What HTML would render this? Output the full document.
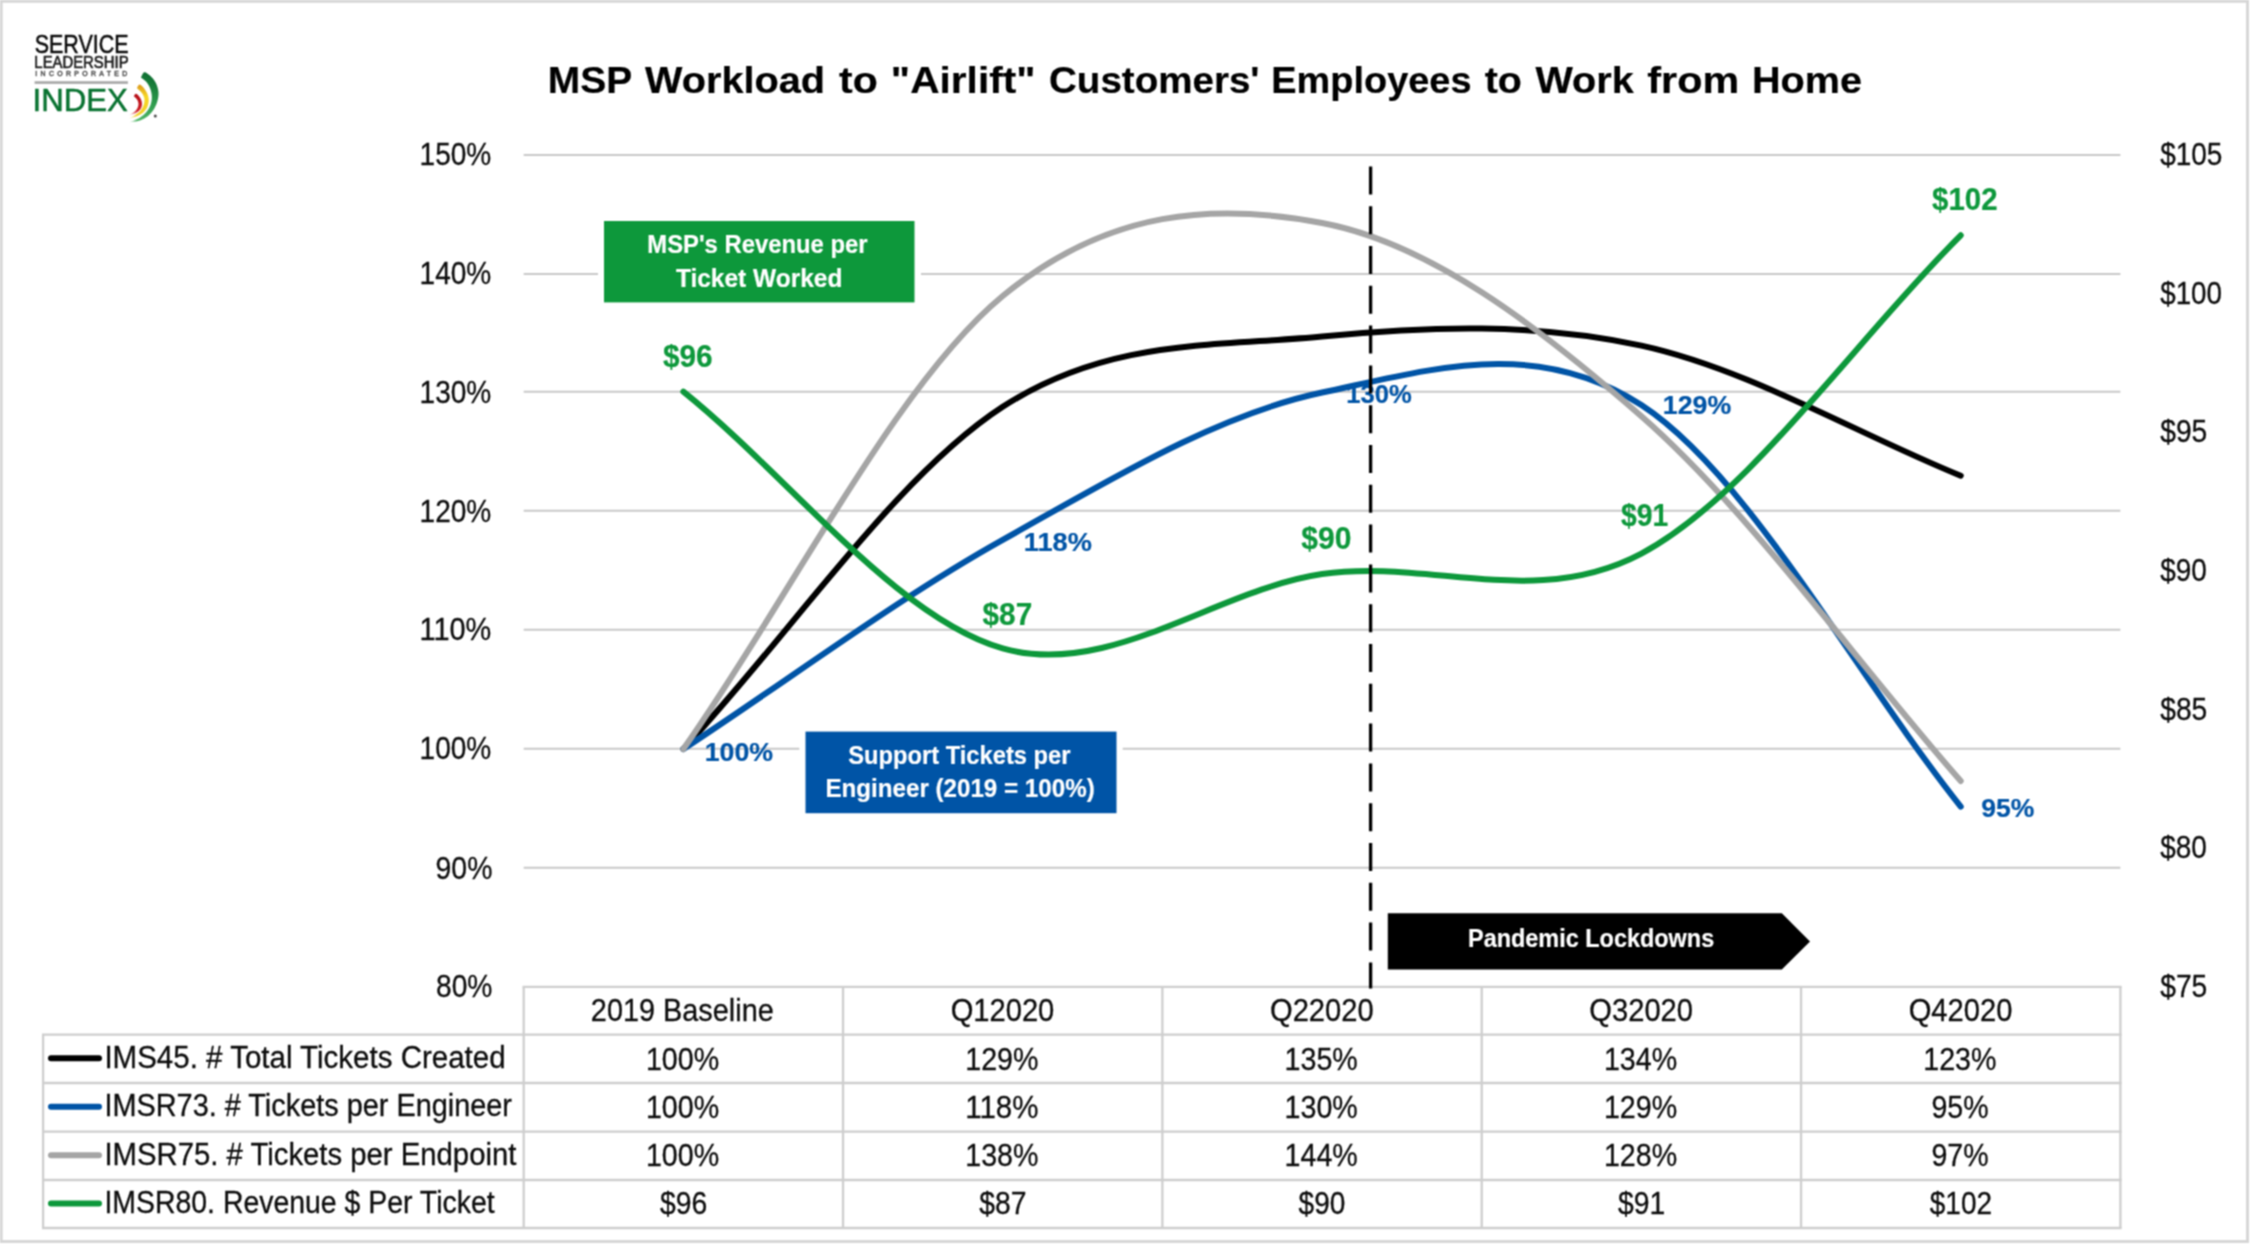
<!DOCTYPE html>
<html lang="en"><head><meta charset="utf-8"><title>MSP Workload to "Airlift" Customers' Employees to Work from Home</title>
<style>html,body{margin:0;padding:0;background:#fff;}body{width:2250px;height:1245px;overflow:hidden;}svg{display:block;}text{font-family:"Liberation Sans",sans-serif;}.b{font-weight:bold;}</style></head><body>
<svg width="2250" height="1245" viewBox="0 0 2250 1245">
<rect x="0" y="0" width="2250" height="1245" fill="#ffffff"/>
<filter id="soft" filterUnits="userSpaceOnUse" x="-10" y="-10" width="2270" height="1265" color-interpolation-filters="sRGB"><feConvolveMatrix order="3" kernelMatrix="1 2 1 2 4 2 1 2 1" divisor="16" edgeMode="duplicate" preserveAlpha="true"/></filter>
<g filter="url(#soft)">
<rect x="-10" y="-10" width="2270" height="1265" fill="#ffffff"/>
<rect x="1.2" y="1.3" width="2246.3" height="1240.2" fill="none" stroke="#d6d6d6" stroke-width="2.9"/>
<line x1="523.7" y1="154.90" x2="2120.4" y2="154.90" stroke="#c8c8c8" stroke-width="2.0"/>
<line x1="523.7" y1="273.90" x2="2120.4" y2="273.90" stroke="#c8c8c8" stroke-width="2.0"/>
<line x1="523.7" y1="391.70" x2="2120.4" y2="391.70" stroke="#c8c8c8" stroke-width="2.0"/>
<line x1="523.7" y1="510.70" x2="2120.4" y2="510.70" stroke="#c8c8c8" stroke-width="2.0"/>
<line x1="523.7" y1="629.80" x2="2120.4" y2="629.80" stroke="#c8c8c8" stroke-width="2.0"/>
<line x1="523.7" y1="748.75" x2="2120.4" y2="748.75" stroke="#c8c8c8" stroke-width="2.0"/>
<line x1="523.7" y1="867.65" x2="2120.4" y2="867.65" stroke="#c8c8c8" stroke-width="2.0"/>
<line x1="522.6" y1="986.80" x2="2121.6" y2="986.80" stroke="#cecece" stroke-width="2.3"/>
<line x1="42.0" y1="1034.70" x2="2121.6" y2="1034.70" stroke="#cecece" stroke-width="2.3"/>
<line x1="42.0" y1="1083.00" x2="2121.6" y2="1083.00" stroke="#cecece" stroke-width="2.3"/>
<line x1="42.0" y1="1131.70" x2="2121.6" y2="1131.70" stroke="#cecece" stroke-width="2.3"/>
<line x1="42.0" y1="1180.00" x2="2121.6" y2="1180.00" stroke="#cecece" stroke-width="2.3"/>
<line x1="42.0" y1="1228.00" x2="2121.6" y2="1228.00" stroke="#cecece" stroke-width="2.3"/>
<line x1="523.70" y1="986.8" x2="523.70" y2="1228.0" stroke="#cecece" stroke-width="2.3"/>
<line x1="843.04" y1="986.8" x2="843.04" y2="1228.0" stroke="#cecece" stroke-width="2.3"/>
<line x1="1162.38" y1="986.8" x2="1162.38" y2="1228.0" stroke="#cecece" stroke-width="2.3"/>
<line x1="1481.72" y1="986.8" x2="1481.72" y2="1228.0" stroke="#cecece" stroke-width="2.3"/>
<line x1="1801.06" y1="986.8" x2="1801.06" y2="1228.0" stroke="#cecece" stroke-width="2.3"/>
<line x1="2120.40" y1="986.8" x2="2120.40" y2="1228.0" stroke="#cecece" stroke-width="2.3"/>
<line x1="43.10" y1="1034.7" x2="43.10" y2="1228.0" stroke="#cecece" stroke-width="2.3"/>
<path d="M683.37,748.97 C789.82,634.91 896.26,475.54 1002.71,406.79 C1109.16,338.03 1215.60,346.65 1322.05,336.45 C1428.50,326.25 1534.94,322.39 1641.39,345.60 C1747.84,368.81 1854.28,432.33 1960.73,475.70" fill="none" stroke="#000000" stroke-width="6.0" stroke-linecap="round" stroke-linejoin="round"/>
<path d="M683.37,748.97 C789.82,679.27 896.26,599.27 1002.71,539.86 C1109.16,480.45 1215.60,415.00 1322.05,392.53 C1428.50,370.05 1534.94,335.99 1641.39,405.00 C1747.84,474.02 1854.28,672.73 1960.73,806.60" fill="none" stroke="#0054a6" stroke-width="6.0" stroke-linecap="round" stroke-linejoin="round"/>
<path d="M683.37,748.97 C789.82,598.00 896.26,383.72 1002.71,296.05 C1109.16,208.39 1215.60,202.94 1322.05,222.98 C1428.50,243.02 1534.94,323.28 1641.39,416.29 C1747.84,509.30 1854.28,659.46 1960.73,781.05" fill="none" stroke="#a5a5a5" stroke-width="6.0" stroke-linecap="round" stroke-linejoin="round"/>
<path d="M683.37,391.66 C789.82,477.23 896.26,617.97 1002.71,648.38 C1109.16,678.78 1215.60,589.88 1322.05,574.08 C1428.50,558.27 1534.94,610.02 1641.39,553.56 C1747.84,497.10 1854.28,341.39 1960.73,235.30" fill="none" stroke="#0d983b" stroke-width="6.0" stroke-linecap="round" stroke-linejoin="round"/>
<text x="419.55" y="165.10" font-size="32.20" fill="#0c0c0c" textLength="71.69" lengthAdjust="spacingAndGlyphs" stroke="#0c0c0c" stroke-width="0.30">150%</text>
<text x="419.55" y="283.90" font-size="32.20" fill="#0c0c0c" textLength="71.69" lengthAdjust="spacingAndGlyphs" stroke="#0c0c0c" stroke-width="0.30">140%</text>
<text x="419.55" y="402.70" font-size="32.20" fill="#0c0c0c" textLength="71.69" lengthAdjust="spacingAndGlyphs" stroke="#0c0c0c" stroke-width="0.30">130%</text>
<text x="419.55" y="521.50" font-size="32.20" fill="#0c0c0c" textLength="71.69" lengthAdjust="spacingAndGlyphs" stroke="#0c0c0c" stroke-width="0.30">120%</text>
<text x="419.49" y="640.30" font-size="32.20" fill="#0c0c0c" textLength="71.77" lengthAdjust="spacingAndGlyphs" stroke="#0c0c0c" stroke-width="0.30">110%</text>
<text x="419.55" y="759.10" font-size="32.20" fill="#0c0c0c" textLength="71.69" lengthAdjust="spacingAndGlyphs" stroke="#0c0c0c" stroke-width="0.30">100%</text>
<text x="435.57" y="878.80" font-size="32.20" fill="#0c0c0c" textLength="56.88" lengthAdjust="spacingAndGlyphs" stroke="#0c0c0c" stroke-width="0.30">90%</text>
<text x="436.02" y="996.70" font-size="32.20" fill="#0c0c0c" textLength="56.42" lengthAdjust="spacingAndGlyphs" stroke="#0c0c0c" stroke-width="0.30">80%</text>
<text x="2160.20" y="165.10" font-size="32.20" fill="#0c0c0c" textLength="62.23" lengthAdjust="spacingAndGlyphs" stroke="#0c0c0c" stroke-width="0.30">$105</text>
<text x="2160.20" y="303.72" font-size="32.20" fill="#0c0c0c" textLength="61.79" lengthAdjust="spacingAndGlyphs" stroke="#0c0c0c" stroke-width="0.30">$100</text>
<text x="2160.20" y="442.33" font-size="32.20" fill="#0c0c0c" textLength="47.15" lengthAdjust="spacingAndGlyphs" stroke="#0c0c0c" stroke-width="0.30">$95</text>
<text x="2160.20" y="580.95" font-size="32.20" fill="#0c0c0c" textLength="46.70" lengthAdjust="spacingAndGlyphs" stroke="#0c0c0c" stroke-width="0.30">$90</text>
<text x="2160.20" y="719.57" font-size="32.20" fill="#0c0c0c" textLength="47.15" lengthAdjust="spacingAndGlyphs" stroke="#0c0c0c" stroke-width="0.30">$85</text>
<text x="2160.20" y="858.18" font-size="32.20" fill="#0c0c0c" textLength="46.70" lengthAdjust="spacingAndGlyphs" stroke="#0c0c0c" stroke-width="0.30">$80</text>
<text x="2160.20" y="996.80" font-size="32.20" fill="#0c0c0c" textLength="47.15" lengthAdjust="spacingAndGlyphs" stroke="#0c0c0c" stroke-width="0.30">$75</text>
<text x="704.73" y="760.80" font-size="26.30" fill="#0054a6" class="b" textLength="68.35" lengthAdjust="spacingAndGlyphs" stroke="#0054a6" stroke-width="0.20">100%</text>
<text x="1023.80" y="550.50" font-size="26.30" fill="#0054a6" class="b" textLength="68.09" lengthAdjust="spacingAndGlyphs" stroke="#0054a6" stroke-width="0.20">118%</text>
<text x="1346.20" y="402.80" font-size="26.30" fill="#0054a6" class="b" textLength="65.46" lengthAdjust="spacingAndGlyphs" stroke="#0054a6" stroke-width="0.20">130%</text>
<text x="1662.83" y="414.20" font-size="26.30" fill="#0054a6" class="b" textLength="68.35" lengthAdjust="spacingAndGlyphs" stroke="#0054a6" stroke-width="0.20">129%</text>
<text x="1981.37" y="817.10" font-size="26.30" fill="#0054a6" class="b" textLength="53.10" lengthAdjust="spacingAndGlyphs" stroke="#0054a6" stroke-width="0.20">95%</text>
<text x="663.00" y="366.70" font-size="30.70" fill="#0d983b" class="b" textLength="49.64" lengthAdjust="spacingAndGlyphs" stroke="#0d983b" stroke-width="0.20">$96</text>
<text x="982.50" y="624.50" font-size="30.70" fill="#0d983b" class="b" textLength="49.71" lengthAdjust="spacingAndGlyphs" stroke="#0d983b" stroke-width="0.20">$87</text>
<text x="1301.30" y="549.30" font-size="30.70" fill="#0d983b" class="b" textLength="50.12" lengthAdjust="spacingAndGlyphs" stroke="#0d983b" stroke-width="0.20">$90</text>
<text x="1621.10" y="526.20" font-size="30.70" fill="#0d983b" class="b" textLength="47.20" lengthAdjust="spacingAndGlyphs" stroke="#0d983b" stroke-width="0.20">$91</text>
<text x="1932.10" y="210.40" font-size="30.70" fill="#0d983b" class="b" textLength="65.43" lengthAdjust="spacingAndGlyphs" stroke="#0d983b" stroke-width="0.20">$102</text>
<rect x="598" y="214.8" width="323" height="93.8" fill="#ffffff"/>
<rect x="604" y="221.0" width="310.5" height="81.4" fill="#0d983b"/>
<rect x="799.3" y="725.4" width="323.4" height="94.2" fill="#ffffff"/>
<rect x="805.5" y="731.6" width="311" height="81.6" fill="#0054a6"/>
<line x1="1370.6" y1="166.4" x2="1370.6" y2="988.4" stroke="#000" stroke-width="3.3" stroke-dasharray="28 11.8"/>
<path d="M1387.8,913.3 H1781.8 L1810,941.5 L1781.8,969.6 H1387.8 Z" fill="#000"/>
<line x1="51.0" y1="1058.2" x2="99.0" y2="1058.2" stroke="#000000" stroke-width="6.0" stroke-linecap="round"/>
<line x1="51.0" y1="1106.8" x2="99.0" y2="1106.8" stroke="#0054a6" stroke-width="6.0" stroke-linecap="round"/>
<line x1="51.0" y1="1155.2" x2="99.0" y2="1155.2" stroke="#a5a5a5" stroke-width="6.0" stroke-linecap="round"/>
<line x1="51.0" y1="1203.4" x2="99.0" y2="1203.4" stroke="#0d983b" stroke-width="6.0" stroke-linecap="round"/>
<defs>
<linearGradient id="gG" gradientUnits="userSpaceOnUse" x1="158" y1="76" x2="138" y2="118"><stop offset="0" stop-color="#0a6a2e"/><stop offset="0.55" stop-color="#2c9a4c"/><stop offset="1" stop-color="#4db464"/></linearGradient>
<linearGradient id="gY" gradientUnits="userSpaceOnUse" x1="140" y1="85" x2="140" y2="118"><stop offset="0" stop-color="#dc9a1c"/><stop offset="0.35" stop-color="#f6d624"/><stop offset="1" stop-color="#f2cf2a"/></linearGradient>
<linearGradient id="gR" gradientUnits="userSpaceOnUse" x1="136" y1="94" x2="136" y2="115"><stop offset="0" stop-color="#b50f16"/><stop offset="1" stop-color="#d3232a"/></linearGradient>
<linearGradient id="gF" gradientUnits="userSpaceOnUse" x1="127.5" y1="0" x2="137" y2="0"><stop offset="0" stop-color="#fff" stop-opacity="1"/><stop offset="0.25" stop-color="#fff" stop-opacity="0.85"/><stop offset="1" stop-color="#fff" stop-opacity="0"/></linearGradient>
</defs>
<g id="logo">
<rect x="34.6" y="81.2" width="93.3" height="2.7" fill="#a9aaa9"/>
<path d="M140.94,77.47 C141.51,76.59 142.86,72.49 144.37,72.18 C145.87,71.87 148.10,73.89 149.97,75.60 C151.83,77.31 154.17,79.85 155.57,82.45 C156.97,85.04 158.00,88.25 158.37,91.16 C158.73,94.06 158.42,96.97 157.74,99.87 C157.07,102.77 155.93,105.88 154.32,108.58 C152.71,111.28 150.48,114.08 148.10,116.05 C145.71,118.02 143.12,119.39 140.01,120.40 C136.90,121.42 131.19,121.86 129.43,122.15 C131.09,121.44 136.59,119.55 139.39,117.92 C142.19,116.28 144.37,114.49 146.23,112.31 C148.10,110.14 149.66,107.44 150.59,104.85 C151.52,102.25 151.89,99.45 151.83,96.76 C151.78,94.06 151.21,91.16 150.28,88.67 C149.34,86.18 147.79,83.69 146.23,81.82 C144.68,79.96 141.82,78.19 140.94,77.47Z" fill="url(#gG)"/>
<path d="M136.90,88.05 C137.37,87.48 138.45,84.52 139.70,84.62 C140.94,84.73 143.02,86.96 144.37,88.67 C145.71,90.38 147.06,92.82 147.79,94.89 C148.51,96.97 148.88,98.94 148.72,101.11 C148.57,103.29 148.00,105.88 146.86,107.96 C145.71,110.03 143.74,112.11 141.88,113.56 C140.01,115.01 137.83,115.86 135.65,116.67 C133.48,117.48 129.95,118.12 128.81,118.41 C129.85,117.86 133.06,116.44 135.03,115.12 C137.00,113.79 139.18,112.16 140.63,110.45 C142.08,108.74 143.12,106.82 143.74,104.85 C144.37,102.88 144.68,100.60 144.37,98.62 C144.05,96.65 143.12,94.79 141.88,93.02 C140.63,91.26 137.73,88.88 136.90,88.05Z" fill="url(#gY)"/>
<path d="M133.79,96.14 C134.15,95.72 135.03,93.54 135.97,93.65 C136.90,93.75 138.45,95.51 139.39,96.76 C140.32,98.00 141.15,99.66 141.57,101.11 C141.98,102.57 142.14,104.02 141.88,105.47 C141.62,106.92 141.05,108.58 140.01,109.83 C138.97,111.07 137.52,112.02 135.65,112.94 C133.79,113.85 129.95,114.91 128.81,115.30 C129.74,114.70 132.96,112.92 134.41,111.69 C135.86,110.47 136.85,109.31 137.52,107.96 C138.19,106.61 138.56,105.05 138.45,103.60 C138.35,102.15 137.68,100.49 136.90,99.25 C136.12,98.00 134.31,96.65 133.79,96.14Z" fill="url(#gR)"/>
<rect x="127" y="108" width="11" height="16" fill="url(#gF)"/>
<circle cx="155.3" cy="116.1" r="1.5" fill="#4a4a4a"/>
<text x="35.3" y="76.2" font-size="6.9" fill="#505050" letter-spacing="3.35" stroke="#505050" stroke-width="0.45">INCORPORATED</text>
</g>
<text x="647.31" y="253.30" font-size="25.50" fill="#fff" class="b" textLength="220.19" lengthAdjust="spacingAndGlyphs" stroke="#fff" stroke-width="0.20">MSP's Revenue per</text>
<text x="675.91" y="287.00" font-size="25.50" fill="#fff" class="b" textLength="166.50" lengthAdjust="spacingAndGlyphs" stroke="#fff" stroke-width="0.20">Ticket Worked</text>
<text x="848.25" y="764.10" font-size="25.50" fill="#fff" class="b" textLength="222.25" lengthAdjust="spacingAndGlyphs" stroke="#fff" stroke-width="0.20">Support Tickets per</text>
<text x="825.39" y="797.30" font-size="25.50" fill="#fff" class="b" textLength="269.34" lengthAdjust="spacingAndGlyphs" stroke="#fff" stroke-width="0.20">Engineer (2019 = 100%)</text>
<text x="1468.04" y="947.10" font-size="25.50" fill="#fff" class="b" textLength="246.17" lengthAdjust="spacingAndGlyphs" stroke="#fff" stroke-width="0.20">Pandemic Lockdowns</text>
<text x="547.77" y="92.90" font-size="37.40" fill="#000" class="b" textLength="84.36" lengthAdjust="spacingAndGlyphs" stroke="#000" stroke-width="0.20">MSP</text>
<text x="645.10" y="92.90" font-size="37.40" fill="#000" class="b" textLength="179.94" lengthAdjust="spacingAndGlyphs" stroke="#000" stroke-width="0.20">Workload</text>
<text x="839.00" y="92.90" font-size="37.40" fill="#000" class="b" textLength="38.64" lengthAdjust="spacingAndGlyphs" stroke="#000" stroke-width="0.20">to</text>
<text x="890.86" y="92.90" font-size="37.40" fill="#000" class="b" textLength="144.66" lengthAdjust="spacingAndGlyphs" stroke="#000" stroke-width="0.20">"Airlift"</text>
<text x="1049.00" y="92.90" font-size="37.40" fill="#000" class="b" textLength="210.54" lengthAdjust="spacingAndGlyphs" stroke="#000" stroke-width="0.20">Customers'</text>
<text x="1271.33" y="92.90" font-size="37.40" fill="#000" class="b" textLength="200.21" lengthAdjust="spacingAndGlyphs" stroke="#000" stroke-width="0.20">Employees</text>
<text x="1484.70" y="92.90" font-size="37.40" fill="#000" class="b" textLength="37.09" lengthAdjust="spacingAndGlyphs" stroke="#000" stroke-width="0.20">to</text>
<text x="1535.40" y="92.90" font-size="37.40" fill="#000" class="b" textLength="98.35" lengthAdjust="spacingAndGlyphs" stroke="#000" stroke-width="0.20">Work</text>
<text x="1647.35" y="92.90" font-size="37.40" fill="#000" class="b" textLength="91.87" lengthAdjust="spacingAndGlyphs" stroke="#000" stroke-width="0.20">from</text>
<text x="1751.92" y="92.90" font-size="37.40" fill="#000" class="b" textLength="110.06" lengthAdjust="spacingAndGlyphs" stroke="#000" stroke-width="0.20">Home</text>
<text x="590.85" y="1020.60" font-size="32.20" fill="#0c0c0c" textLength="182.92" lengthAdjust="spacingAndGlyphs" stroke="#0c0c0c" stroke-width="0.30">2019 Baseline</text>
<text x="950.64" y="1020.60" font-size="32.20" fill="#0c0c0c" textLength="103.69" lengthAdjust="spacingAndGlyphs" stroke="#0c0c0c" stroke-width="0.30">Q12020</text>
<text x="1269.98" y="1020.60" font-size="32.20" fill="#0c0c0c" textLength="103.69" lengthAdjust="spacingAndGlyphs" stroke="#0c0c0c" stroke-width="0.30">Q22020</text>
<text x="1589.32" y="1020.60" font-size="32.20" fill="#0c0c0c" textLength="103.69" lengthAdjust="spacingAndGlyphs" stroke="#0c0c0c" stroke-width="0.30">Q32020</text>
<text x="1908.66" y="1020.60" font-size="32.20" fill="#0c0c0c" textLength="103.69" lengthAdjust="spacingAndGlyphs" stroke="#0c0c0c" stroke-width="0.30">Q42020</text>
<text x="104.40" y="1067.90" font-size="31.07" fill="#0c0c0c" textLength="401.25" lengthAdjust="spacingAndGlyphs" stroke="#0c0c0c" stroke-width="0.30">IMS45. # Total Tickets Created</text>
<text x="645.88" y="1070.10" font-size="32.20" fill="#0c0c0c" textLength="73.24" lengthAdjust="spacingAndGlyphs" stroke="#0c0c0c" stroke-width="0.30">100%</text>
<text x="965.22" y="1070.10" font-size="32.20" fill="#0c0c0c" textLength="73.24" lengthAdjust="spacingAndGlyphs" stroke="#0c0c0c" stroke-width="0.30">129%</text>
<text x="1284.56" y="1070.10" font-size="32.20" fill="#0c0c0c" textLength="73.24" lengthAdjust="spacingAndGlyphs" stroke="#0c0c0c" stroke-width="0.30">135%</text>
<text x="1603.90" y="1070.10" font-size="32.20" fill="#0c0c0c" textLength="73.24" lengthAdjust="spacingAndGlyphs" stroke="#0c0c0c" stroke-width="0.30">134%</text>
<text x="1923.24" y="1070.10" font-size="32.20" fill="#0c0c0c" textLength="73.24" lengthAdjust="spacingAndGlyphs" stroke="#0c0c0c" stroke-width="0.30">123%</text>
<text x="104.45" y="1116.30" font-size="31.07" fill="#0c0c0c" textLength="407.49" lengthAdjust="spacingAndGlyphs" stroke="#0c0c0c" stroke-width="0.30">IMSR73. # Tickets per Engineer</text>
<text x="645.88" y="1118.00" font-size="32.20" fill="#0c0c0c" textLength="73.24" lengthAdjust="spacingAndGlyphs" stroke="#0c0c0c" stroke-width="0.30">100%</text>
<text x="965.16" y="1118.00" font-size="32.20" fill="#0c0c0c" textLength="73.32" lengthAdjust="spacingAndGlyphs" stroke="#0c0c0c" stroke-width="0.30">118%</text>
<text x="1284.56" y="1118.00" font-size="32.20" fill="#0c0c0c" textLength="73.24" lengthAdjust="spacingAndGlyphs" stroke="#0c0c0c" stroke-width="0.30">130%</text>
<text x="1603.90" y="1118.00" font-size="32.20" fill="#0c0c0c" textLength="73.24" lengthAdjust="spacingAndGlyphs" stroke="#0c0c0c" stroke-width="0.30">129%</text>
<text x="1931.49" y="1118.00" font-size="32.20" fill="#0c0c0c" textLength="57.19" lengthAdjust="spacingAndGlyphs" stroke="#0c0c0c" stroke-width="0.30">95%</text>
<text x="104.41" y="1164.60" font-size="31.07" fill="#0c0c0c" textLength="411.99" lengthAdjust="spacingAndGlyphs" stroke="#0c0c0c" stroke-width="0.30">IMSR75. # Tickets per Endpoint</text>
<text x="645.88" y="1166.20" font-size="32.20" fill="#0c0c0c" textLength="73.24" lengthAdjust="spacingAndGlyphs" stroke="#0c0c0c" stroke-width="0.30">100%</text>
<text x="965.22" y="1166.20" font-size="32.20" fill="#0c0c0c" textLength="73.24" lengthAdjust="spacingAndGlyphs" stroke="#0c0c0c" stroke-width="0.30">138%</text>
<text x="1284.56" y="1166.20" font-size="32.20" fill="#0c0c0c" textLength="73.24" lengthAdjust="spacingAndGlyphs" stroke="#0c0c0c" stroke-width="0.30">144%</text>
<text x="1603.90" y="1166.20" font-size="32.20" fill="#0c0c0c" textLength="73.24" lengthAdjust="spacingAndGlyphs" stroke="#0c0c0c" stroke-width="0.30">128%</text>
<text x="1931.49" y="1166.20" font-size="32.20" fill="#0c0c0c" textLength="57.19" lengthAdjust="spacingAndGlyphs" stroke="#0c0c0c" stroke-width="0.30">97%</text>
<text x="104.48" y="1212.80" font-size="31.07" fill="#0c0c0c" textLength="390.12" lengthAdjust="spacingAndGlyphs" stroke="#0c0c0c" stroke-width="0.30">IMSR80. Revenue $ Per Ticket</text>
<text x="659.92" y="1214.00" font-size="32.20" fill="#0c0c0c" textLength="47.25" lengthAdjust="spacingAndGlyphs" stroke="#0c0c0c" stroke-width="0.30">$96</text>
<text x="979.26" y="1214.00" font-size="32.20" fill="#0c0c0c" textLength="47.25" lengthAdjust="spacingAndGlyphs" stroke="#0c0c0c" stroke-width="0.30">$87</text>
<text x="1298.60" y="1214.00" font-size="32.20" fill="#0c0c0c" textLength="46.80" lengthAdjust="spacingAndGlyphs" stroke="#0c0c0c" stroke-width="0.30">$90</text>
<text x="1617.94" y="1214.00" font-size="32.20" fill="#0c0c0c" textLength="47.25" lengthAdjust="spacingAndGlyphs" stroke="#0c0c0c" stroke-width="0.30">$91</text>
<text x="1929.73" y="1214.00" font-size="32.20" fill="#0c0c0c" textLength="62.34" lengthAdjust="spacingAndGlyphs" stroke="#0c0c0c" stroke-width="0.30">$102</text>
<text x="34.73" y="52.90" font-size="26.10" fill="#0c0c0c" textLength="93.87" lengthAdjust="spacingAndGlyphs" stroke="#0c0c0c" stroke-width="0.55">SERVICE</text>
<text x="34.36" y="67.90" font-size="15.60" fill="#1c1c1c" textLength="94.21" lengthAdjust="spacingAndGlyphs" stroke="#1c1c1c" stroke-width="0.6">LEADERSHIP</text>
<text x="32.56" y="111.40" font-size="32.00" fill="#087230" textLength="95.27" lengthAdjust="spacingAndGlyphs" stroke="#087230" stroke-width="0.5">INDEX</text>
</g>
</svg></body></html>
